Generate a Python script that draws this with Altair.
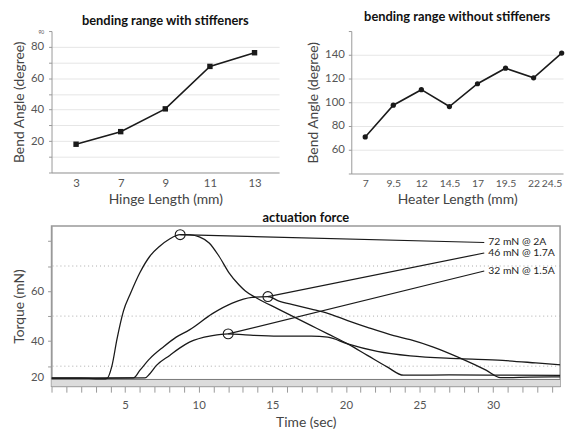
import altair as alt
import pandas as pd

FONT = "Lato"

# ---- top-left: bending range with stiffeners ----
hinge_len = ["3", "7", "9", "11", "13"]
hinge_angle = [18, 26, 40.5, 67.5, 76.2]

# ---- top-right: bending range without stiffeners ----
heater_len = [7, 9.5, 12, 14.5, 17, 19.5, 22, 24.5]
heater_angle = [70.8, 97.5, 110.6, 96.4, 115.6, 128.7, 120.6, 141.4]

# ---- bottom: actuation force ----
t_2a = [0, 2, 3.55, 3.77, 4.1, 4.45, 4.89, 5.34, 6.0, 6.68, 7.35, 8.02, 8.74, 9.4,
        10.04, 10.71, 11.38, 12.06, 12.73, 13.17, 13.96, 15.41, 16.53, 17.65, 18.77,
        20.12, 21.46, 22.8, 23.92, 27, 31, 35]
v_2a = [25.2, 25.2, 24.9, 25.1, 30.0, 40.9, 52.1, 58.7, 67.3, 73.9, 77.9, 80.8, 82.5, 82.4,
        81.6, 79.2, 73.9, 67.3, 62.5, 60.0, 57.1, 52.8, 49.5, 46.2, 42.9,
        38.9, 34.3, 29.7, 26.4, 26.5, 26.4, 26.3]

t_17a = [0, 3, 5.56, 6.01, 6.68, 7.58, 8.47, 9.37, 10.93, 12.28, 13.62, 14.7, 15.41,
         16.53, 17.65, 18.77, 20.12, 21.46, 23.25, 24.37, 25.94, 27.73, 29.52, 30.5,
         32.5, 35]
v_17a = [25.2, 25.2, 25.3, 28.4, 33.0, 37.6, 41.6, 44.5, 51.0, 55.2, 57.5, 57.8, 56.1,
         54.4, 52.8, 51.1, 48.2, 45.5, 42.2, 40.6, 37.6, 33.3, 28.4, 25.4,
         25.6, 25.8]

t_15a = [0, 3, 6.35, 6.68, 7.13, 8.03, 8.7, 9.37, 10.93, 12.0, 13.17, 15.41, 17.65,
         18.77, 20.12, 22.13, 24.37, 27.73, 30.64, 32.9, 35]
v_15a = [25.2, 25.2, 25.3, 27.0, 30.3, 34.3, 37.2, 39.6, 42.2, 42.9, 42.5, 42.0, 42.0,
         41.6, 38.9, 35.9, 34.1, 33.0, 32.3, 31.3, 30.3]

peak_t = [8.74, 14.7, 12.0]
peak_v = [82.5, 57.8, 42.9]
label_t = [29.4, 29.4, 29.4]
label_v = [79.4, 75.2, 68.0]
labels = ["72 mN @ 2A", "46 mN @ 1.7A", "32 mN @ 1.5A"]

grid_dotted = [30, 50, 70]
band_lo, band_hi = 22, 24.7
time_ticks = list(range(0, 35))
torque_ticks = [25.6, 30, 40, 50, 60, 70, 80]

LINE = "#1a1a1a"

def title(text):
    return alt.TitleParams(text, font=FONT, fontSize=13, fontWeight="bold",
                           color="#111", offset=1)

# top-left chart
df_h = pd.DataFrame({"len": hinge_len, "angle": hinge_angle})
left = alt.Chart(df_h, title=title("bending range with stiffeners")).mark_line(
    color=LINE, strokeWidth=1.6, point=alt.OverlayMarkDef(shape="square", size=30, color=LINE, filled=True)
).encode(
    x=alt.X("len:O", sort=hinge_len, scale=alt.Scale(type="point", padding=0.55),
            axis=alt.Axis(title="Hinge Length (mm)", labelAngle=0, ticks=False,
                          labelPadding=5)),
    y=alt.Y("angle:Q", scale=alt.Scale(domain=[0, 90], nice=False),
            axis=alt.Axis(title="Bend Angle (degree)", values=list(range(0, 100, 10)),
                          labelExpr="indexof([20,40,60,80,90], datum.value) >= 0 ? datum.label : ''",
                          labelFontSize={"condition": {"test": "datum.value == 90", "value": 5}, "value": 11.5},
                          gridOpacity={"condition": {"test": "datum.value == 90", "value": 0}, "value": 1},
                          labelOverlap=False, tickSize=3, labelPadding=5)),
).properties(width=230, height=143)

# top-right chart
df_r = pd.DataFrame({"len": heater_len, "angle": heater_angle})
right = alt.Chart(df_r, title=title("bending range without stiffeners")).mark_line(
    color=LINE, strokeWidth=1.6, point=alt.OverlayMarkDef(shape="circle", size=28, color=LINE, filled=True)
).encode(
    x=alt.X("len:Q", scale=alt.Scale(domain=[5.76, 24.62], nice=False, zero=False),
            axis=alt.Axis(title="Heater Length (mm)", values=heater_len, ticks=False,
                          grid=False, labelPadding=5, labelFlush=5, format=".3~g",
                          labelOverlap=False, labelFontSize=10.5)),
    y=alt.Y("angle:Q", scale=alt.Scale(domain=[40, 160], nice=False, zero=False),
            axis=alt.Axis(title="Bend Angle (degree)", values=list(range(40, 180, 20)),
                          labelExpr="(datum.value >= 60 && datum.value <= 140) ? datum.label : ''",
                          gridOpacity={"condition": {"test": "datum.value == 160 || datum.value == 40", "value": 0}, "value": 1},
                          labelOverlap=False, tickSize=3, labelPadding=4)),
).properties(width=214, height=144)

top = alt.hconcat(left, right, spacing=27)

# bottom chart
rows = []
for name, ts, vs in [("2A", t_2a, v_2a), ("1.7A", t_17a, v_17a), ("1.5A", t_15a, v_15a)]:
    for i, (t, v) in enumerate(zip(ts, vs)):
        rows.append({"series": name, "t": t, "v": v, "order": i})
df_c = pd.DataFrame(rows)

xs = alt.Scale(domain=[0, 34.55], nice=False)
ys = alt.Scale(domain=[22, 86], nice=False, zero=False)
xaxis = alt.Axis(title="Time (sec)", values=time_ticks, grid=False, tickSize=6,
                 labelExpr="(datum.value % 5 == 0 && datum.value > 0 && datum.value < 35) ? datum.label : ''",
                 labelOverlap=False, labelPadding=8)
yaxis = alt.Axis(title="Torque (mN)", values=torque_ticks, grid=False, tickSize=4,
                 labelOverlap=False, labelPadding=4,
                 labelExpr="datum.value == 25.6 ? '20' : ((datum.value == 40 || datum.value == 60) ? datum.label : '')",
                 tickOpacity={"condition": {"test": "datum.value == 25.6", "value": 0}, "value": 1})

band = alt.Chart(pd.DataFrame({"x": [0], "x2": [34.55], "y": [band_lo], "y2": [band_hi]})).mark_rect(
    color="#dcdcdc").encode(
    x=alt.X("x:Q", scale=xs, axis=xaxis), x2="x2:Q",
    y=alt.Y("y:Q", scale=ys, axis=yaxis), y2="y2:Q",
)
band_top = alt.Chart(pd.DataFrame({"y": [band_hi]})).mark_rule(color="#777", strokeWidth=1).encode(
    y=alt.Y("y:Q", scale=ys, axis=yaxis))
grid = alt.Chart(pd.DataFrame({"y": grid_dotted})).mark_rule(
    color="#aaa", strokeDash=[1, 3], strokeWidth=1).encode(y=alt.Y("y:Q", scale=ys, axis=yaxis))

curves = alt.Chart(df_c).mark_line(color=LINE, strokeWidth=1.3, interpolate="monotone", clip=True).encode(
    x=alt.X("t:Q", scale=xs, axis=xaxis), y=alt.Y("v:Q", scale=ys, axis=yaxis),
    detail="series:N", order="order:Q")

df_a = pd.DataFrame({"pt": peak_t, "pv": peak_v, "lt": label_t, "lv": label_v, "label": labels})
connectors = alt.Chart(df_a).mark_rule(color=LINE, strokeWidth=1.2).encode(
    x=alt.X("pt:Q", scale=xs, axis=xaxis), y=alt.Y("pv:Q", scale=ys, axis=yaxis), x2="lt:Q", y2="lv:Q")
circles = alt.Chart(df_a).mark_point(shape="circle", filled=False, size=100, color=LINE,
                                     strokeWidth=1.1, opacity=1).encode(
    x=alt.X("pt:Q", scale=xs, axis=xaxis), y=alt.Y("pv:Q", scale=ys, axis=yaxis))
texts = alt.Chart(df_a).mark_text(align="left", baseline="middle", dx=4, font=FONT,
                                  fontSize=10.5, color="#222").encode(
    x=alt.X("lt:Q", scale=xs, axis=xaxis), y=alt.Y("lv:Q", scale=ys, axis=yaxis), text="label:N")

bottom = alt.layer(band, grid, band_top, curves, connectors, circles, texts).properties(
    width=514, height=162, title=title("actuation force"),
    view=alt.ViewBackground(stroke="#999", strokeWidth=1.5))

chart = alt.vconcat(top, bottom, spacing=4).properties(
    padding={"left": 3, "top": 1, "right": 0, "bottom": 0}
).configure_view(stroke=None).configure_axis(
    domainColor="#999", tickColor="#999", gridColor="#e6e6e6", labelColor="#555",
    titleColor="#444", labelFont=FONT, titleFont=FONT, labelFontSize=11.5,
    titleFontSize=14, titleFontWeight="normal"
).configure_title(anchor="middle")

chart.save("out.html", embed_options={"renderer": "svg", "actions": False})
